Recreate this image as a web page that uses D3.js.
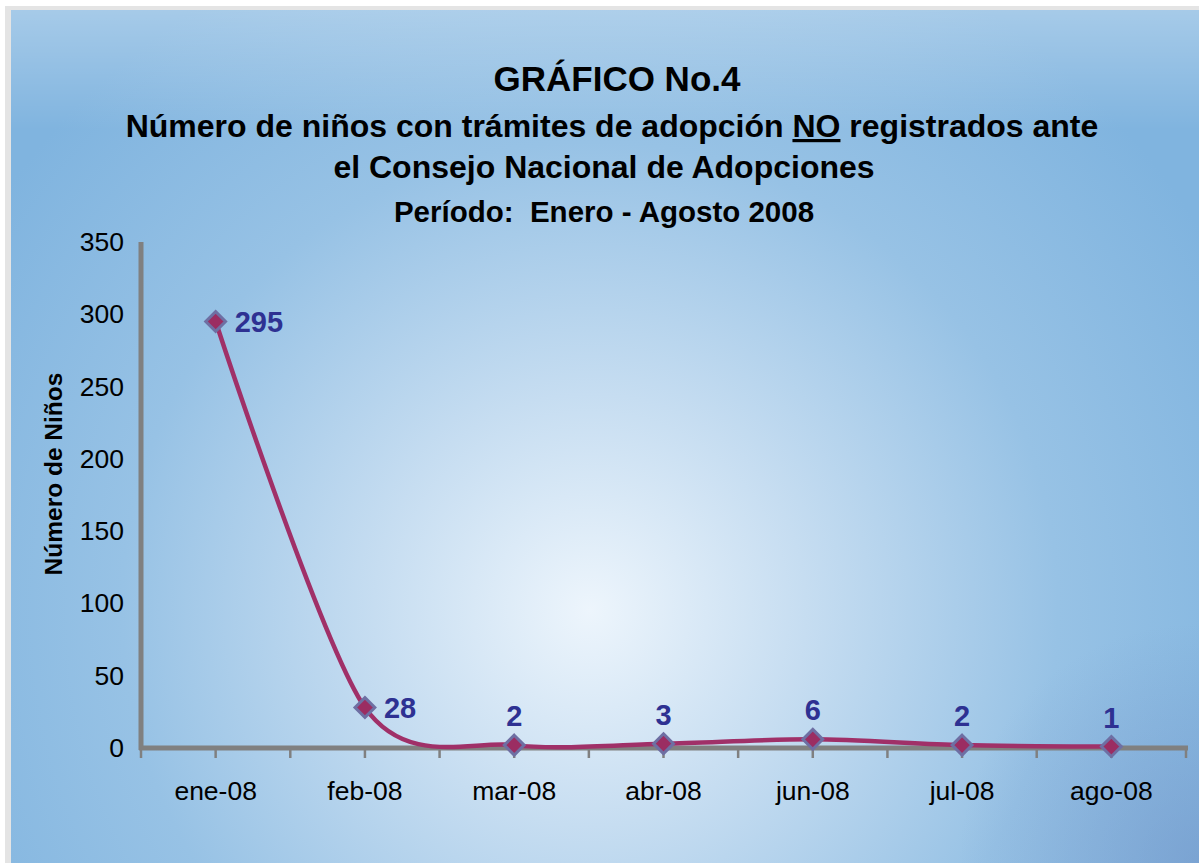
<!DOCTYPE html>
<html>
<head>
<meta charset="utf-8">
<script src="https://cdn.jsdelivr.net/npm/d3@7"></script>
<style>
  body { margin: 0; background: #ffffff; }
  svg { display: block; font-family: "Liberation Sans", Arial, sans-serif; }
</style>
</head>
<body>
<div id="chart"></div>
<script>
// chart data
const months = ['ene-08', 'feb-08', 'mar-08', 'abr-08', 'jun-08', 'jul-08', 'ago-08'];
const ninos = [295, 28, 2, 3, 6, 2, 1];
const yTicks = [0, 50, 100, 150, 200, 250, 300, 350];

const width = 1199;
const height = 863;
const margin = { top: 242, right: 13, bottom: 115, left: 141 };

const svg = d3.select('#chart')
    .append('svg')
    .attr('width', width)
    .attr('height', height);

const defs = svg.append('defs');

// background gradient (light spot in the middle, blue at the edges)
const bg = defs.append('radialGradient')
    .attr('id', 'bg')
    .attr('gradientUnits', 'userSpaceOnUse')
    .attr('cx', 590).attr('cy', 610).attr('r', 720);
bg.append('stop').attr('offset', 0).attr('stop-color', '#edf5fc');
bg.append('stop').attr('offset', 0.3).attr('stop-color', '#c6ddf1');
bg.append('stop').attr('offset', 0.65).attr('stop-color', '#97c2e5');
bg.append('stop').attr('offset', 1).attr('stop-color', '#80b4df');

const topGlow = defs.append('linearGradient')
    .attr('id', 'topGlow')
    .attr('x1', 0).attr('y1', 0).attr('x2', 0).attr('y2', 1);
topGlow.append('stop').attr('offset', 0).attr('stop-color', '#ffffff').attr('stop-opacity', 0.3);
topGlow.append('stop').attr('offset', 1).attr('stop-color', '#ffffff').attr('stop-opacity', 0);

const cornerShade = defs.append('radialGradient')
    .attr('id', 'cornerShade')
    .attr('gradientUnits', 'userSpaceOnUse')
    .attr('cx', 1199).attr('cy', 863).attr('r', 240);
cornerShade.append('stop').attr('offset', 0).attr('stop-color', '#6f8fc4').attr('stop-opacity', 0.5);
cornerShade.append('stop').attr('offset', 1).attr('stop-color', '#6f8fc4').attr('stop-opacity', 0);

// frame shadow + frame
svg.append('rect')
    .attr('x', 5).attr('y', 6)
    .attr('width', width).attr('height', height)
    .attr('fill', '#e4e4e4');
svg.append('rect')
    .attr('x', 11).attr('y', 10)
    .attr('width', width).attr('height', height)
    .attr('fill', 'url(#bg)');
svg.append('rect')
    .attr('x', 11).attr('y', 10)
    .attr('width', width).attr('height', 120)
    .attr('fill', 'url(#topGlow)');
svg.append('rect')
    .attr('x', 11).attr('y', 10)
    .attr('width', width).attr('height', height)
    .attr('fill', 'url(#cornerShade)');

// titles
const titles = svg.append('g')
    .attr('text-anchor', 'middle')
    .attr('font-weight', 'bold')
    .attr('fill', '#000');

titles.append('text')
    .attr('x', 617).attr('y', 91)
    .attr('font-size', 35)
    .text('GRÁFICO No.4');

const sub = titles.append('text')
    .attr('x', 612).attr('y', 137)
    .attr('font-size', 32);
sub.append('tspan').text('Número de niños con trámites de adopción ');
sub.append('tspan').attr('text-decoration', 'underline').text('NO');
sub.append('tspan').text(' registrados ante');

titles.append('text')
    .attr('x', 604).attr('y', 178)
    .attr('font-size', 32)
    .text('el Consejo Nacional de Adopciones');

titles.append('text')
    .attr('x', 604).attr('y', 222)
    .attr('font-size', 29.5)
    .style('white-space', 'pre')
    .text('Período:  Enero - Agosto 2008');

// scales
const x = d3.scaleBand()
    .domain(months)
    .range([margin.left, width - margin.right])
    .padding(0);

const y = d3.scaleLinear()
    .domain([0, 350])
    .range([height - margin.bottom, margin.top]);

const axisColor = '#808080';

// y axis
const yAxis = svg.append('g')
    .attr('transform', `translate(${margin.left},0)`)
    .call(d3.axisLeft(y).tickValues(yTicks).tickSize(0).tickPadding(17));
yAxis.select('.domain').remove();
yAxis.selectAll('text')
    .attr('font-size', 26.5)
    .attr('font-family', '"Liberation Sans", Arial, sans-serif')
    .attr('fill', '#000');

svg.append('line')
    .attr('x1', margin.left).attr('x2', margin.left)
    .attr('y1', y(350)).attr('y2', y(0) + 2)
    .attr('stroke', axisColor)
    .attr('stroke-width', 5);

// x axis: ticks at band edges and band centres
const halfTicks = [];
months.forEach(m => {
    halfTicks.push(x(m));
    halfTicks.push(x(m) + x.bandwidth() / 2);
});
halfTicks.push(width - margin.right);

svg.selectAll('.xtick')
    .data(halfTicks)
    .enter()
    .append('line')
    .attr('class', 'xtick')
    .attr('x1', d => d).attr('x2', d => d)
    .attr('y1', y(0)).attr('y2', y(0) + 10)
    .attr('stroke', axisColor)
    .attr('stroke-width', 2.5);

svg.append('line')
    .attr('x1', margin.left - 2).attr('x2', width - margin.right + 2)
    .attr('y1', y(0)).attr('y2', y(0))
    .attr('stroke', axisColor)
    .attr('stroke-width', 5);

const xAxis = svg.append('g')
    .attr('transform', `translate(0,${y(0)})`)
    .call(d3.axisBottom(x).tickSize(0).tickPadding(33));
xAxis.select('.domain').remove();
xAxis.selectAll('text')
    .attr('font-size', 26.5)
    .attr('font-family', '"Liberation Sans", Arial, sans-serif')
    .attr('fill', '#000');

// y axis title
svg.append('text')
    .attr('transform', `translate(62,${(y(0) + y(350)) / 2 - 21}) rotate(-90)`)
    .attr('text-anchor', 'middle')
    .attr('font-size', 24.5)
    .attr('font-weight', 'bold')
    .text('Número de Niños');

// smoothed line (close to Excel's smoothing)
const cx = d => x(d) + x.bandwidth() / 2;
const points = months.map((m, i) => [cx(m), y(ninos[i])]);

const line = d3.line()
    .curve(d3.curveCardinal.tension(0.15));

svg.append('path')
    .attr('d', line(points))
    .attr('fill', 'none')
    .attr('stroke', '#a03068')
    .attr('stroke-width', 4.5)
    .attr('stroke-linejoin', 'round');

// diamond markers
const diamond = d3.symbol().type(d3.symbolDiamond2).size(250);
svg.selectAll('.marker')
    .data(points)
    .enter()
    .append('path')
    .attr('class', 'marker')
    .attr('d', diamond)
    .attr('transform', d => `translate(${d[0]},${d[1]})`)
    .attr('fill', '#9b2d62')
    .attr('stroke', '#6e6fa3')
    .attr('stroke-width', 3);

// data labels
svg.selectAll('.lbl')
    .data(ninos)
    .enter()
    .append('text')
    .attr('class', 'lbl')
    .attr('x', (d, i) => i < 2 ? points[i][0] + 19 : points[i][0])
    .attr('y', (d, i) => i < 2 ? points[i][1] + 10 : points[i][1] - 19)
    .attr('text-anchor', (d, i) => i < 2 ? 'start' : 'middle')
    .attr('font-size', 29)
    .attr('font-weight', 'bold')
    .attr('fill', '#2e3192')
    .text(d => d);
</script>
</body>
</html>
